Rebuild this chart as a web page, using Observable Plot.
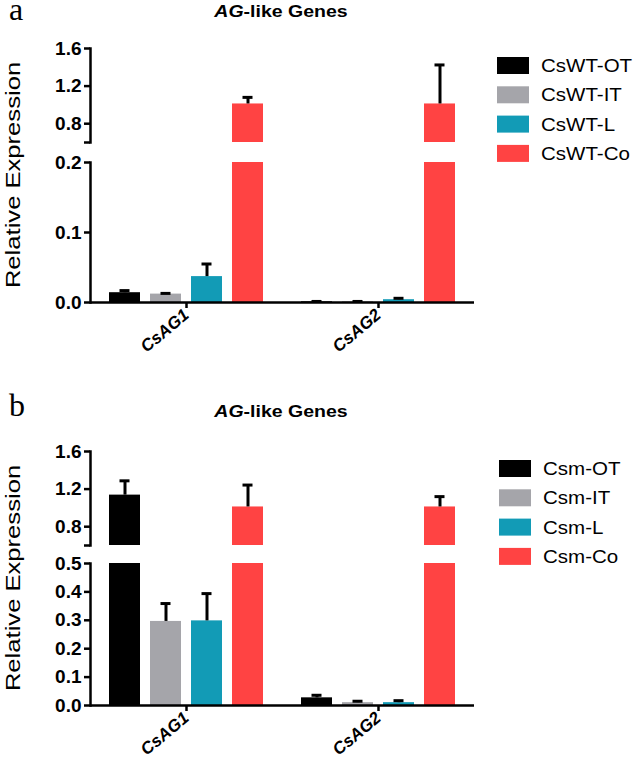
<!DOCTYPE html>
<html><head><meta charset="utf-8">
<script src="https://cdn.jsdelivr.net/npm/d3@7"></script>
<script src="https://cdn.jsdelivr.net/npm/@observablehq/plot@0.6"></script>
<style>
html,body{margin:0;padding:0;background:#fff;}
#root{position:relative;width:636px;height:771px;overflow:hidden;font-family:"Liberation Sans",Arial,sans-serif;}
#root svg{position:absolute;}
</style></head>
<body><div id="root"></div>
<script>
// ---------- data ----------
const genes = ["CsAG1", "CsAG2"];
const seriesA = ["CsWT-OT", "CsWT-IT", "CsWT-L", "CsWT-Co"];
const seriesB = ["Csm-OT", "Csm-IT", "Csm-L", "Csm-Co"];
const colors = ["#000000", "#a5a5aa", "#129bb6", "#ff4343"];

// panel a (wild type)
const valuesA_CsAG1 = [0.014, 0.012, 0.037, 1.01];
const errorsA_CsAG1 = [0.003, 0.001, 0.018, 0.07];
const valuesA_CsAG2 = [0.001, 0.001, 0.004, 1.01];
const errorsA_CsAG2 = [0.0005, 0.0005, 0.002, 0.415];

// panel b (mutant)
const valuesB_CsAG1 = [1.136, 0.296, 0.298, 1.01];
const errorsB_CsAG1 = [0.152, 0.063, 0.096, 0.233];
const valuesB_CsAG2 = [0.027, 0.010, 0.010, 1.01];
const errorsB_CsAG2 = [0.009, 0.005, 0.007, 0.11];

const upperTicks = [0.6, 0.8, 1.2, 1.6];
const lowerTicksA = [0, 0.1, 0.2];
const lowerTicksB = [0, 0.1, 0.2, 0.3, 0.4, 0.5];
const title = ["AG", "-like Genes"];
const yLabel = "Relative Expression";
const panelLetters = ["a", "b"];

// ---------- helpers ----------
function rows(series, v1, e1, v2, e2) {
  const out = [];
  series.forEach((s, i) => out.push({gene: genes[0], series: s, value: v1[i], err: e1[i]}));
  series.forEach((s, i) => out.push({gene: genes[1], series: s, value: v2[i], err: e2[i]}));
  return out;
}
const dataA = rows(seriesA, valuesA_CsAG1, errorsA_CsAG1, valuesA_CsAG2, errorsA_CsAG2);
const dataB = rows(seriesB, valuesB_CsAG1, errorsB_CsAG1, valuesB_CsAG2, errorsB_CsAG2);

const root = document.getElementById("root");

function segment(data, series, {domain, ticks, top, frameHeight, lower}) {
  const mt = 8, mb = lower ? 70 : 6;
  const marks = [
    Plot.barY(data, {fx: "gene", x: "series", y1: 0, y2: "value", fill: "series", clip: true}),
    Plot.ruleX(data, {fx: "gene", x: "series", y1: "value", y2: d => d.value + d.err, stroke: "#000", strokeWidth: 3, clip: true}),
    Plot.tickY(data, {fx: "gene", x: "series", y: d => d.value + d.err, stroke: "#000", strokeWidth: 3, insetLeft: 10.5, insetRight: 10.5, clip: true}),
    Plot.axisY({ticks, tickSize: 6, tickPadding: 3, fontSize: 19, fontWeight: "bold", strokeWidth: 2.5, label: null,
      tickFormat: d => (d === 0.6 ? "" : d3.format(".1f")(d))}),
    Plot.frame({anchor: "left", facetAnchor: "left", strokeWidth: 2.5})
  ];
  if (lower) {
    marks.push(Plot.ruleY([0], {strokeWidth: 2.5}));
    marks.push(Plot.axisFx({anchor: "bottom", tickSize: 6, tickPadding: 4, tickRotate: -40, fontSize: 17,
      fontWeight: "bold", fontStyle: "italic", strokeWidth: 2.5, label: null}));
  }
  const svg = Plot.plot({
    width: 482, height: mt + frameHeight + mb,
    marginLeft: 90, marginRight: 8, marginTop: mt, marginBottom: mb,
    style: {fontFamily: "Liberation Sans, Arial, sans-serif", color: "#000", background: "transparent", overflow: "visible"},
    fx: lower ? {domain: genes, padding: 0, label: null} : {domain: genes, padding: 0, axis: null, label: null},
    x: {domain: series, paddingInner: 0.244, paddingOuter: 0.463, axis: null},
    y: {domain},
    color: {domain: series, range: colors},
    marks
  });
  svg.style.left = "0px";
  svg.style.top = (top - mt) + "px";
  root.appendChild(svg);
}

// panel a
segment(dataA, seriesA, {domain: [0.6, 1.6], ticks: upperTicks, top: 48, frameHeight: 94, lower: false});
segment(dataA, seriesA, {domain: [0, 0.2], ticks: lowerTicksA, top: 162, frameHeight: 140, lower: true});
// panel b
segment(dataB, seriesB, {domain: [0.6, 1.6], ticks: upperTicks, top: 451, frameHeight: 94, lower: false});
segment(dataB, seriesB, {domain: [0, 0.5], ticks: lowerTicksB, top: 563, frameHeight: 142, lower: true});

// ---------- annotations ----------
const ov = d3.select(root).append("svg")
  .attr("width", 636).attr("height", 771)
  .style("left", "0px").style("top", "0px")
  .attr("font-family", "Liberation Sans, Arial, sans-serif");

const panels = [
  {letter: panelLetters[0], base: 20, titleY: 17, yMid: 175, series: seriesA, legX: 497, legY: 57},
  {letter: panelLetters[1], base: 416, titleY: 417, yMid: 578, series: seriesB, legX: 499, legY: 460}
];
panels.forEach(p => {
  ov.append("text").attr("x", 9).attr("y", p.base)
    .attr("font-family", "Liberation Serif, Times New Roman, serif").attr("font-size", 32).text(p.letter);
  const t = ov.append("text").attr("transform", `translate(281,${p.titleY}) scale(1.22,1)`)
    .attr("text-anchor", "middle").attr("font-weight", "bold").attr("font-size", 16);
  t.append("tspan").attr("font-style", "italic").text(title[0]);
  t.append("tspan").text(title[1]);
  ov.append("text").attr("transform", `translate(19.5,${p.yMid}) rotate(-90) scale(1.22,1)`)
    .attr("text-anchor", "middle").attr("font-size", 21).text(yLabel);
  p.series.forEach((s, i) => {
    const y = p.legY + i * 29.3;
    ov.append("rect").attr("x", p.legX).attr("y", y).attr("width", 32).attr("height", 17).attr("fill", colors[i]);
    ov.append("text").attr("transform", `translate(${p.legX + 44},${y + 15}) scale(1.08,1)`)
      .attr("font-size", 19).text(s);
  });
});
</script></body></html>
